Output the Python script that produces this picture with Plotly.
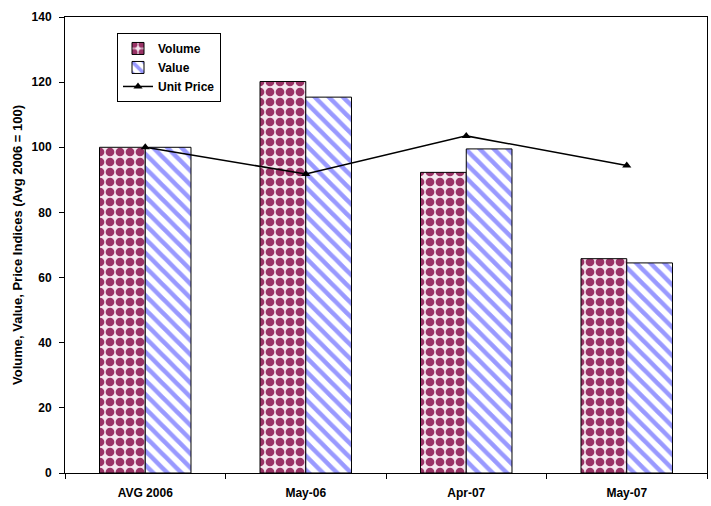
import plotly.graph_objects as go

# Index data (Avg 2006 = 100)
categories = ["AVG 2006", "May-06", "Apr-07", "May-07"]
volume = [100, 120.2, 92.3, 65.8]
value = [100, 115.4, 99.5, 64.5]
unit_price = [100, 91.8, 103.5, 94.4]
y_ticks = [0, 20, 40, 60, 80, 100, 120, 140]

FONT = "Liberation Sans, Arial, sans-serif"

fig = go.Figure()

fig.add_trace(go.Bar(
    name="Volume", x=categories, y=volume,
    marker=dict(
        color="white",
        line=dict(color="black", width=1),
        pattern=dict(shape=".", fgcolor="#993366", bgcolor="#f4e6ee",
                     size=10, solidity=0.6, fillmode="replace"),
    ),
))
fig.add_trace(go.Bar(
    name="Value", x=categories, y=value,
    marker=dict(
        color="white",
        line=dict(color="black", width=1),
        pattern=dict(shape="\\", fgcolor="#9999ff", bgcolor="white",
                     size=10, solidity=0.45, fillmode="replace"),
    ),
))
fig.add_trace(go.Scatter(
    name="Unit Price", x=categories, y=unit_price, mode="lines+markers",
    line=dict(color="black", width=1.5),
    marker=dict(symbol="triangle-up", size=8, color="black"),
))

fig.update_layout(
    width=711, height=506,
    margin=dict(l=65, r=4, t=17, b=33),
    paper_bgcolor="white", plot_bgcolor="white",
    barmode="group", bargap=0.43, bargroupgap=0,
    font=dict(family=FONT, size=12, color="black"),
    showlegend=True,
    legend=dict(
        x=0.081, y=0.965, xanchor="left", yanchor="top",
        bordercolor="black", borderwidth=1, bgcolor="white",
        font=dict(family=FONT, size=12, color="black", weight="bold"),
        tracegroupgap=0, itemwidth=30,
    ),
)

fig.update_xaxes(
    type="category", tickson="boundaries", ticks="outside", ticklen=5,
    tickcolor="black", showline=True, linecolor="black", linewidth=1,
    mirror=True, showgrid=False, ticklabelstandoff=9,
    tickfont=dict(family=FONT, size=12, color="black", weight="bold"),
)
fig.update_yaxes(
    range=[0, 140], tickvals=y_ticks, ticks="outside", ticklen=5,
    tickcolor="black", showline=True, linecolor="black", linewidth=1,
    mirror=True, showgrid=False, zeroline=False, ticklabelstandoff=5,
    tickfont=dict(family=FONT, size=12, color="black", weight="bold"),
    title=dict(text="Volume, Value, Price Indices (Avg 2006 = 100)",
               font=dict(family=FONT, size=13, color="black", weight="bold"),
               standoff=6),
)

fig.write_html("out.html")
